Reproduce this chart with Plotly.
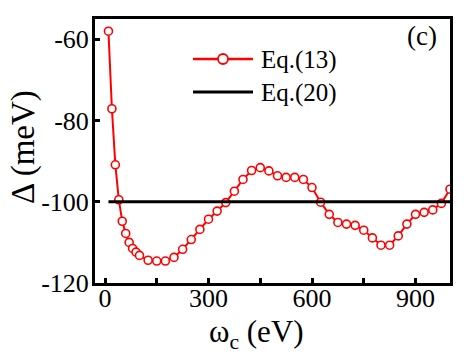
import plotly.graph_objects as go

# Eq.(13) data
omega_c = [10, 20, 30, 40, 50, 60, 70, 80, 90, 100,
           125, 150, 175, 200, 225, 250, 275, 300, 325, 350,
           375, 400, 425, 450, 475, 500, 525, 550, 575, 600,
           625, 650, 675, 700, 725, 750, 775, 800, 825, 850,
           875, 900, 925, 950, 975, 1000]
delta_eq13 = [-58.0, -77.1, -90.9, -99.5, -104.8, -107.8, -110.0, -111.5, -112.4, -113.2,
              -114.4, -114.6, -114.6, -113.7, -111.7, -109.3, -106.8, -104.3, -102.3, -100.2,
              -97.4, -94.5, -92.3, -91.6, -92.4, -93.6, -94.0, -94.0, -94.5, -96.5,
              -100.1, -103.1, -105.1, -105.5, -105.8, -107.0, -108.9, -110.7, -110.7, -108.4,
              -105.5, -103.1, -102.6, -102.0, -100.4, -96.9]

# Eq.(20) data
omega_eq20 = [10, 1000]
delta_eq20 = [-100.0, -100.0]

x_ticks = [0, 300, 600, 900]
x_tick_text = ["0", "300", "600", "900"]
y_ticks = [-60, -80, -100, -120]
y_tick_text = ["-60", "-80", "-100", "-120"]

FONT = "Liberation Serif"
RED = "#ff0000"

W, H = 472, 354
ml, mr, mt, mb = 95, 22, 19, 71
pw, ph = W - ml - mr, H - mt - mb


def px_x(px):
    return (px - ml) / pw


def px_y(py):
    return 1 - (py - mt) / ph


fig = go.Figure()
fig.add_trace(go.Scatter(
    x=omega_c, y=delta_eq13, mode="lines+markers", name="Eq.(13)",
    line=dict(color=RED, width=2),
    marker=dict(symbol="circle", size=8, color="white",
                line=dict(color=RED, width=1.6)),
    showlegend=False,
))
fig.add_trace(go.Scatter(
    x=omega_eq20, y=delta_eq20, mode="lines", name="Eq.(20)",
    line=dict(color="black", width=3),
    showlegend=False,
))

# legend drawn by hand (long line samples as in the reference)
shapes = [
    dict(type="line", xref="paper", yref="paper", x0=px_x(193), x1=px_x(253),
         y0=px_y(59), y1=px_y(59), line=dict(color=RED, width=2.5)),
    dict(type="circle", xref="paper", yref="paper", xsizemode="pixel", ysizemode="pixel",
         xanchor=px_x(223), yanchor=px_y(59), x0=-5, x1=5, y0=-5, y1=5,
         fillcolor="white", line=dict(color=RED, width=1.8)),
    dict(type="line", xref="paper", yref="paper", x0=px_x(193), x1=px_x(253),
         y0=px_y(92), y1=px_y(92), line=dict(color="black", width=3)),
]

annotations = [
    dict(text="Eq.(13)", x=259, y=60, xanchor="left", size=25),
    dict(text="Eq.(20)", x=259, y=93, xanchor="left", size=25),
    dict(text="Δ (meV)", x=23, y=147, xanchor="center", size=33, angle=-90),
    dict(text="ω<sub>c</sub> (eV)", x=256, y=334, xanchor="center", size=31),
    dict(text="(c)", x=422, y=36, xanchor="center", size=27),
]
ann_objs = []
for a in annotations:
    ann_objs.append(dict(
        text=a["text"], x=px_x(a["x"]), y=px_y(a["y"]), xref="paper", yref="paper",
        xanchor=a["xanchor"], yanchor="middle", showarrow=False,
        textangle=a.get("angle", 0), font=dict(size=a["size"], family=FONT, color="black"),
    ))

fig.update_layout(
    width=W, height=H,
    margin=dict(l=ml, r=mr, t=mt, b=mb),
    paper_bgcolor="white", plot_bgcolor="white",
    font=dict(family=FONT, color="black"),
    showlegend=False,
    shapes=shapes,
    annotations=ann_objs,
    xaxis=dict(range=[-29, 1000], tickvals=x_ticks, ticktext=x_tick_text,
               ticks="inside", ticklen=5, ticklabelstandoff=-10,
               tickwidth=3, tickcolor="black", showline=True, linecolor="black",
               linewidth=3, mirror=True, showgrid=False, zeroline=False,
               tickfont=dict(size=26, family=FONT, color="black"),
               minor=dict(dtick=150, ticks="inside", ticklen=5, tickwidth=3,
                          tickcolor="black", showgrid=False)),
    yaxis=dict(range=[-120, -55], tickvals=y_ticks, ticktext=y_tick_text,
               ticks="inside", ticklen=5, ticklabelstandoff=-2,
               tickwidth=3, tickcolor="black", showline=True, linecolor="black",
               linewidth=3, mirror=True, showgrid=False, zeroline=False,
               tickfont=dict(size=26, family=FONT, color="black")),
)

fig.write_html("out.html")
